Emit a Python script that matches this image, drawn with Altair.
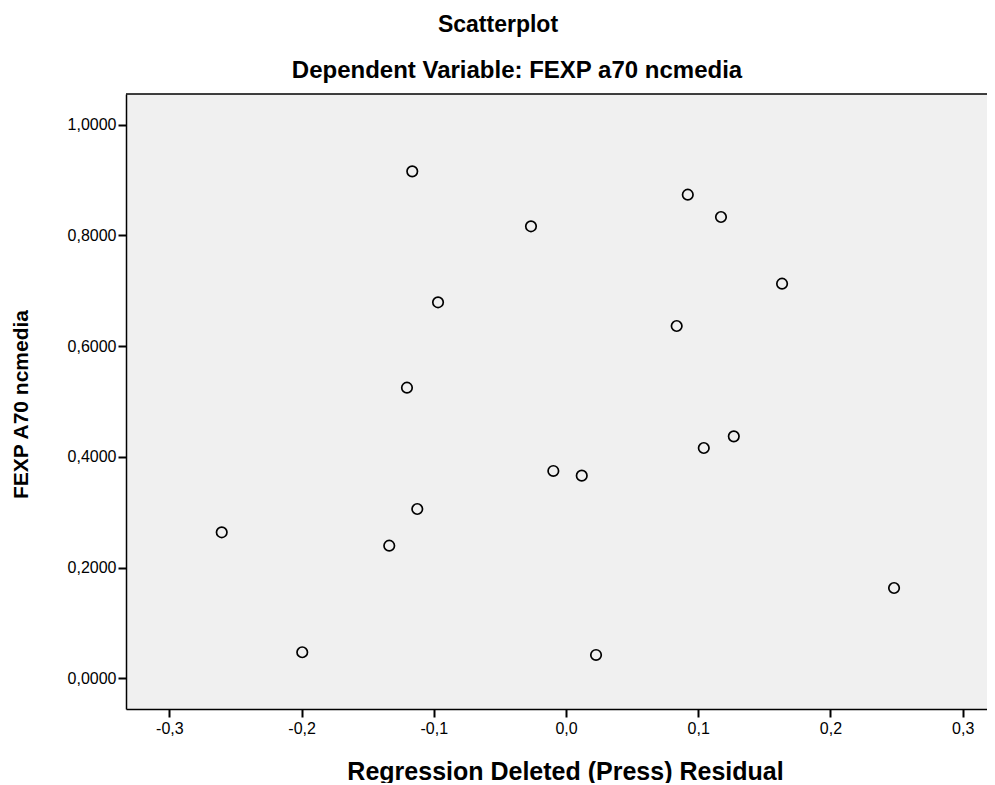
import altair as alt
import pandas as pd

# Data
residual = [-0.1163, 0.0921, 0.1172, -0.0265, 0.1634, -0.0968, 0.0837, -0.1203,
            0.1269, 0.1042, -0.0096, 0.0119, -0.1125, -0.2604, -0.1337, 0.2481,
            -0.1995, 0.0227]
fexp = [0.9158, 0.8736, 0.8333, 0.8165, 0.7128, 0.6792, 0.6364, 0.5249,
        0.4371, 0.4160, 0.3745, 0.3660, 0.3058, 0.2637, 0.2395, 0.1631,
        0.0470, 0.0421]

x_ticks = [-0.3, -0.2, -0.1, 0.0, 0.1, 0.2, 0.3]
y_ticks = [0.0, 0.2, 0.4, 0.6, 0.8, 1.0]

title_text = "Scatterplot"
subtitle_text = "Dependent Variable: FEXP a70 ncmedia"
x_title = "Regression Deleted (Press) Residual"
y_title = "FEXP A70 ncmedia"

df = pd.DataFrame({"res": residual, "fexp": fexp})

FONT = "Liberation Sans"
W, H = 861, 615

points = alt.Chart(df).mark_point(
    shape="circle", filled=False, stroke="black", strokeWidth=1.7, size=110, opacity=1
).encode(
    x=alt.X("res:Q",
            scale=alt.Scale(domain=[-0.3328, 0.3184], nice=False, zero=False),
            axis=alt.Axis(values=x_ticks, title=x_title,
                          labelExpr="replace(replace(format(datum.value, '.1f'), '.', ','), '\u2212', '-')",
                          grid=False, domainColor="black", domainWidth=1.5,
                          tickColor="black", tickWidth=2, tickSize=8,
                          labelFont=FONT, labelFontSize=16, labelColor="black",
                          labelPadding=3,
                          titleFont=FONT, titleFontSize=25, titleFontWeight="bold",
                          titleColor="black", titleX=439, titleY=70,
                          titleBaseline="alphabetic", titleAlign="center")),
    y=alt.Y("fexp:Q",
            scale=alt.Scale(domain=[-0.0555, 1.0555], nice=False, zero=False),
            axis=alt.Axis(values=y_ticks, title=y_title,
                          labelExpr="replace(format(datum.value, '.4f'), '.', ',')",
                          grid=False, domainColor="black", domainWidth=1.5,
                          tickColor="black", tickWidth=2, tickSize=8,
                          labelFont=FONT, labelFontSize=16, labelColor="black",
                          labelPadding=2,
                          titleFont=FONT, titleFontSize=21, titleFontWeight="bold",
                          titleColor="black", titleX=-105, titleY=310,
                          titleAngle=270, titleBaseline="middle", titleAlign="center")),
)

top_border = alt.Chart(pd.DataFrame({"k": [0]})).mark_rule(
    color="black", strokeWidth=1.5
).encode(x=alt.value(0), x2=alt.value(W + 10), y=alt.value(0))

t1 = alt.Chart(pd.DataFrame({"t": [title_text]})).mark_text(
    font=FONT, fontSize=23, fontWeight="bold", color="black",
    align="center", baseline="alphabetic"
).encode(text="t:N", x=alt.value(372), y=alt.value(-62))

t2 = alt.Chart(pd.DataFrame({"t": [subtitle_text]})).mark_text(
    font=FONT, fontSize=24, fontWeight="bold", color="black",
    align="center", baseline="alphabetic"
).encode(text="t:N", x=alt.value(391), y=alt.value(-16))

chart = alt.layer(points, top_border, t1, t2).properties(
    width=W, height=H,
    autosize=alt.AutoSizeParams(type="none"),
    padding={"left": 118, "top": 86, "right": 0, "bottom": 74},
    background="white",
).configure_view(
    fill="#f0f0f0", strokeWidth=0
)

chart.save("out.html", embed_options={"renderer": "svg", "actions": False})
